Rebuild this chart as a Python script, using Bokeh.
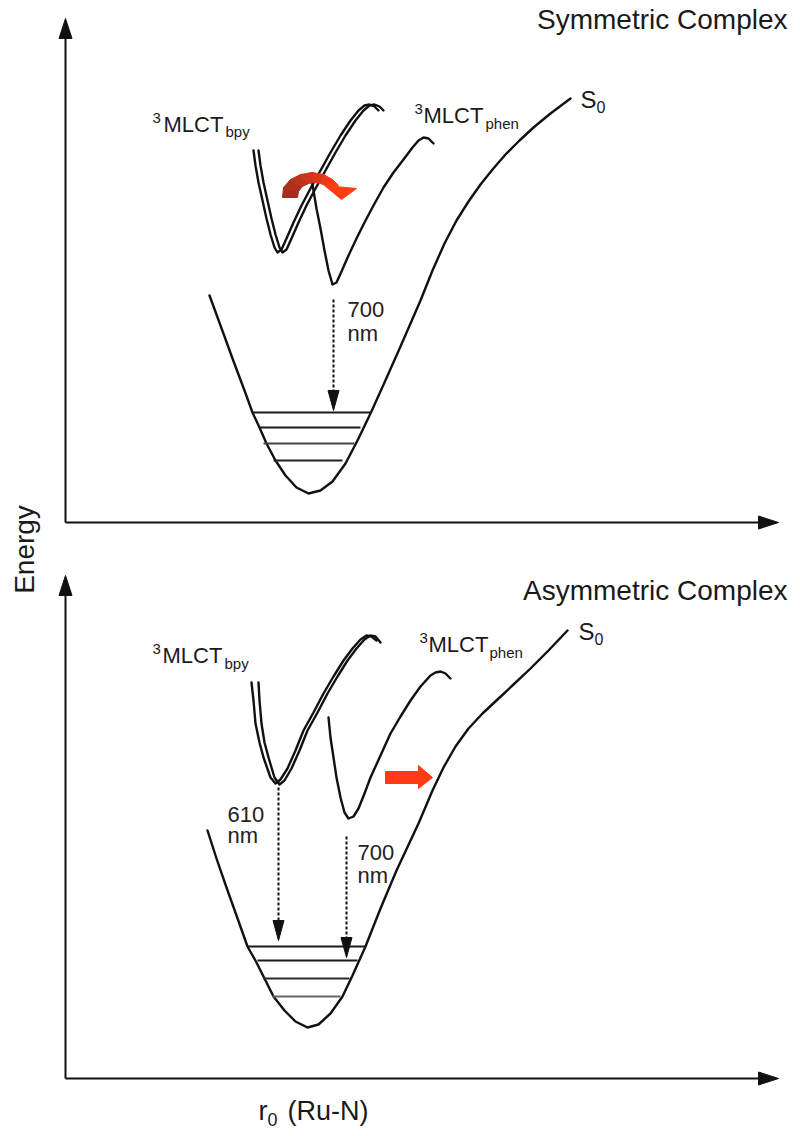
import math
from bokeh.plotting import figure
from bokeh.models import Range1d
from bokeh.core.properties import value
from bokeh.embed import file_html
from bokeh.resources import INLINE

# ---------------- data (page-pixel coordinates) -------------
# axes: origin and arrow tips for the two panels
axis_x0 = [65, 65]
axis_y0 = [522, 1078]
axis_ytip = [18, 575]
axis_xtip = [778, 778]

# ground state S0 curves
s0_top_x = [209, 220, 232, 244, 252, 259, 266, 275, 285, 296, 308, 320, 332, 345, 357, 370, 384, 400, 420, 432, 444, 456, 468, 480, 492, 505, 519, 533, 550, 570]
s0_top_y = [295, 325, 358, 390, 412, 427, 443, 460, 475, 487, 493, 490, 481, 463, 440, 413, 382, 346, 300, 270, 243, 220, 201, 184, 169, 154, 140, 127, 113, 98]
s0_bot_x = [207, 216, 226, 236, 247, 256, 264, 273, 284, 295, 307, 318, 330, 342, 352, 365, 380, 396, 418, 432, 443, 455, 468, 482, 497, 513, 530, 548, 567]
s0_bot_y = [830, 858, 887, 915, 946, 962, 978, 996, 1010, 1021, 1027, 1024, 1013, 996, 975, 946, 908, 870, 823, 790, 767, 746, 728, 713, 699, 684, 668, 650, 630]

# 3MLCT(bpy) double curves (two strands)
bpyA_top_x = [253, 255, 258, 262, 266, 270, 274, 277, 281, 286, 293, 301, 310, 320, 330, 340, 350, 358, 364, 369, 374, 378]
bpyA_top_y = [150, 165, 182, 200, 218, 234, 247, 252, 249, 238, 222, 205, 188, 170, 152, 135, 120, 110, 105, 104, 106, 110]
bpyB_top_x = [258, 260, 263, 267, 271, 275, 279, 282, 286, 291, 298, 306, 315, 325, 335, 345, 355, 363, 369, 374, 379, 383]
bpyB_top_y = [150, 165, 182, 200, 218, 234, 247, 252, 249, 238, 222, 205, 188, 170, 152, 135, 120, 110, 105, 104, 106, 110]
bpyA_bot_x = [251, 253, 255, 259, 263, 270, 275, 280, 287, 295, 303, 313, 323, 333, 343, 352, 360, 366, 371, 376]
bpyA_bot_y = [682, 700, 723, 742, 757, 777, 783, 779, 768, 750, 730, 712, 693, 676, 660, 648, 639, 635, 636, 640]
bpyB_bot_x = [258, 259, 261, 264, 268, 274, 279, 284, 291, 299, 307, 317, 327, 337, 347, 356, 364, 370, 375, 380]
bpyB_bot_y = [682, 700, 723, 742, 757, 777, 784, 780, 768, 750, 730, 712, 693, 676, 660, 648, 639, 635, 636, 642]

# 3MLCT(phen) curves
phen_top_x = [310, 313, 316, 320, 324, 328, 332, 336, 341, 348, 356, 364, 373, 383, 393, 403, 412, 418, 423, 428, 433]
phen_top_y = [173, 190, 208, 228, 250, 270, 284, 282, 271, 255, 238, 222, 205, 187, 172, 159, 147, 140, 137, 138, 143]
phen_bot_x = [328, 330, 333, 336, 340, 344, 348, 353, 358, 364, 370, 380, 390, 400, 410, 420, 430, 435, 440, 445, 450]
phen_bot_y = [717, 737, 757, 777, 797, 812, 818, 816, 808, 793, 777, 755, 733, 716, 700, 686, 675, 672, 671, 673, 678]

# vibrational levels of S0
lev_y = [412, 427, 443, 460, 946, 960, 978, 996]
lev_x0 = [252, 259, 263, 273, 247, 257, 263, 272]
lev_x1 = [370, 360, 354, 342, 365, 357, 349, 340]
lev_col = ["#1a1a1a", "#1a1a1a", "#444444", "#222222", "#1a1a1a", "#1a1a1a", "#2a2a2a", "#666666"]

# dotted emission arrows
emi_x = [333, 278, 346]
emi_y0 = [299, 787, 836]
emi_tip = [410, 940, 957]

# red curved arrow: outer / inner edge of the band, segment colours, head
arc_outer_x = [282, 283, 290, 300, 312, 323, 332, 338]
arc_outer_y = [197, 187, 179, 174, 172, 174, 179, 185]
arc_inner_x = [297, 298, 302, 308, 314, 320, 325, 328]
arc_inner_y = [197, 191, 186, 183, 182, 183, 185, 187]
arc_colors = ["#a32e1e", "#b0301c", "#be331b", "#ce3519", "#de3718", "#ec3916", "#f73b15"]
arc_head_x = [324, 356, 341]
arc_head_y = [185, 188, 199]
# red straight arrow
straight_arrow_x = [385, 418, 418, 432, 418, 418, 385]
straight_arrow_y = [771, 771, 765, 777, 788, 783, 783]

# texts (x, baseline y)
titles = ["Symmetric Complex", "Asymmetric Complex"]
titles_x = [787, 787]
titles_y = [29, 600]
mlct_x = [163, 423, 162, 428]
mlct_y = [132, 123, 663, 652]
mlct_sub = ["bpy", "phen", "bpy", "phen"]
mlct_sub_x = [225, 485, 224, 489]
mlct_sub_y = [136, 128, 668, 657]
sup3_x = [152, 414, 152, 419]
sup3_y = [123, 114, 654, 643]
s_x = [580, 578]
s_y = [108, 640]
s_sub_x = [596, 594]
s_sub_y = [112, 644]
wl_text = ["700", "nm", "610", "nm", "700", "nm"]
wl_x = [347, 347, 227, 227, 357, 357]
wl_y = [317, 341, 822, 843, 860, 883]
xlab_text = ["r", "(Ru-N)"]
xlab_x = [258, 287]
xlab_y = [1120, 1120]

FONT = value("Liberation Sans")
INK = "#111111"
TXT = "#1a1a1a"

p = figure(width=800, height=1136, x_range=Range1d(0, 800), y_range=Range1d(1136, 0),
           output_backend="svg", toolbar_location=None, x_axis_type=None, y_axis_type=None,
           min_border=0)
p.grid.visible = False
p.outline_line_color = None
p.background_fill_color = "white"
p.border_fill_color = "white"


def heads(tx, ty, dx, dy, length, width):
    xs, ys = [], []
    for x, y, ux, uy in zip(tx, ty, dx, dy):
        bx, by = x - length * ux, y - length * uy
        nx, ny = -uy, ux
        xs.append([x, bx + width / 2 * nx, bx - width / 2 * nx])
        ys.append([y, by + width / 2 * ny, by - width / 2 * ny])
    return xs, ys


def label(xs, ys, texts, size, color=TXT, align="left"):
    # the svg text is drawn about half a cap height below the requested baseline; compensate
    shift = 0.36 * size
    p.text(xs, [y - shift for y in ys], text=texts, text_font=FONT, text_font_size=f"{size}px",
           text_align=align, text_baseline="alphabetic", text_color=color)

# axes
p.segment(x0=axis_x0, y0=axis_y0, x1=axis_x0, y1=[t + 10 for t in axis_ytip], line_width=2, line_color=INK)
p.segment(x0=axis_x0, y0=axis_y0, x1=[t - 10 for t in axis_xtip], y1=axis_y0, line_width=2, line_color=INK)
hx, hy = heads(axis_x0 + axis_xtip, axis_ytip + axis_y0, [0, 0, 1, 1], [-1, -1, 0, 0], 20, 13)
p.patches(hx, hy, fill_color=INK, line_color=INK, line_width=1)

# curves
for cx, cy in [(s0_top_x, s0_top_y), (s0_bot_x, s0_bot_y), (bpyA_top_x, bpyA_top_y), (bpyB_top_x, bpyB_top_y),
               (bpyA_bot_x, bpyA_bot_y), (bpyB_bot_x, bpyB_bot_y), (phen_top_x, phen_top_y), (phen_bot_x, phen_bot_y)]:
    p.line(cx, cy, line_width=2.4, line_color=INK, line_join="round", line_cap="round")

# vibrational levels
p.segment(x0=lev_x0, y0=lev_y, x1=lev_x1, y1=lev_y, line_width=2, line_color=lev_col)

# dotted emission arrows
p.segment(x0=emi_x, y0=emi_y0, x1=emi_x, y1=[t - 12 for t in emi_tip], line_width=2, line_color=INK, line_dash="3 2")
hx, hy = heads(emi_x, emi_tip, [0] * 3, [1] * 3, 20, 11)
p.patches(hx, hy, fill_color=INK, line_color=INK, line_width=1)

# red curved arrow (band of coloured quads + head)
qx, qy = [], []
for i in range(len(arc_colors)):
    qx.append([arc_outer_x[i], arc_outer_x[i + 1], arc_inner_x[i + 1], arc_inner_x[i]])
    qy.append([arc_outer_y[i], arc_outer_y[i + 1], arc_inner_y[i + 1], arc_inner_y[i]])
p.patches(qx, qy, fill_color=arc_colors, line_color=arc_colors, line_width=1)
p.patch(arc_head_x, arc_head_y, fill_color="#ff3c14", line_color="#ff3c14", line_width=1)
# red straight arrow
p.patch(straight_arrow_x, straight_arrow_y, fill_color="#ff3a14", line_color="#ff3a14", line_width=1)

# texts
label(titles_x, titles_y, titles, 28, align="right")
label(mlct_x, mlct_y, ["MLCT"] * 4, 22)
label(mlct_sub_x, mlct_sub_y, mlct_sub, 15)
label(sup3_x, sup3_y, ["3"] * 4, 15)
label(s_x, s_y, ["S", "S"], 24)
label(s_sub_x, s_sub_y, ["0", "0"], 16)
label(wl_x, wl_y, wl_text, 22, color="#222222")
label(xlab_x, xlab_y, xlab_text, 27)
label([267], [1125], ["0"], 18)
p.text([24], [549], text=["Energy"], angle=math.pi / 2, text_font=FONT, text_font_size="28px", text_align="center",
       text_baseline="alphabetic", text_color=TXT)

open("out.html", "w").write(file_html(p, INLINE))
